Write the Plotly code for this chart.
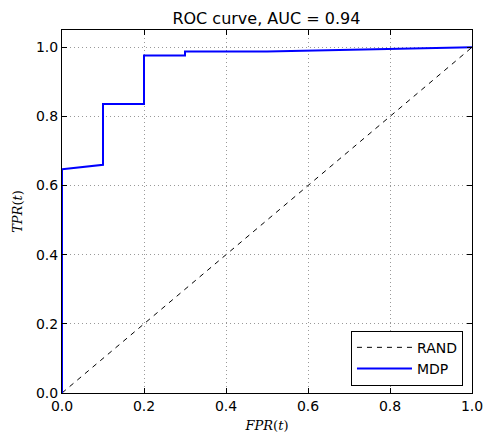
import plotly.graph_objects as go

# Data
rand_fpr = [0.0, 1.0]
rand_tpr = [0.0, 1.0]
mdp_fpr = [0.0, 0.0, 0.1, 0.1, 0.2, 0.2, 0.3, 0.3, 0.5, 0.8, 1.0]
mdp_tpr = [0.0, 0.647, 0.66, 0.836, 0.836, 0.976, 0.976, 0.988, 0.988, 0.995, 1.0]
x_ticks = [0.0, 0.2, 0.4, 0.6, 0.8, 1.0]
y_ticks = [0.0, 0.2, 0.4, 0.6, 0.8, 1.0]

fig = go.Figure()
fig.add_trace(go.Scatter(x=rand_fpr, y=rand_tpr, mode="lines", name="RAND",
                         line=dict(color="black", width=1, dash="5px,5px")))
fig.add_trace(go.Scatter(x=mdp_fpr, y=mdp_tpr, mode="lines", name="MDP",
                         line=dict(color="#0000ff", width=2)))

axis_common = dict(showline=True, linecolor="black", linewidth=1, mirror="allticks",
                   ticks="inside", ticklen=5, tickcolor="black", automargin=False,
                   showgrid=True, gridcolor="#999999", griddash="1px,3px", gridwidth=1,
                   zeroline=False, tickfont=dict(family="DejaVu Sans", size=14, color="black"))

fig.update_xaxes(range=[0, 1.0], tickvals=x_ticks, ticktext=[f"{v:.1f}" for v in x_ticks],
                 title=dict(text="<i>FPR</i>(<i>t</i>)", font=dict(family="DejaVu Serif", size=13, color="black"),
                            standoff=8), **axis_common)
fig.update_yaxes(range=[0, 1.05], tickvals=y_ticks, ticktext=[f"{v:.1f}" for v in y_ticks],
                 title=dict(text="<i>TPR</i>(<i>t</i>)", font=dict(family="DejaVu Serif", size=13, color="black"),
                            standoff=10), **axis_common)

fig.update_layout(
    width=487, height=433,
    margin=dict(l=62, r=15, t=30, b=40, autoexpand=False),
    paper_bgcolor="white", plot_bgcolor="white",
    title=dict(text="ROC curve, AUC = 0.94", x=0.547, xref="container", xanchor="center",
               y=0.958, yref="container", yanchor="middle",
               font=dict(family="DejaVu Sans", size=16, color="black")),
    legend=dict(x=0.978, y=0.02, xanchor="right", yanchor="bottom",
                bordercolor="black", borderwidth=1, bgcolor="white",
                font=dict(family="DejaVu Sans", size=14, color="black"),
                tracegroupgap=0, itemwidth=55),
    showlegend=True,
)

fig.write_html("out.html", config={"displayModeBar": False},
               post_script="document.body.style.margin='0';document.body.style.padding='0';document.documentElement.style.overflow='hidden';")
